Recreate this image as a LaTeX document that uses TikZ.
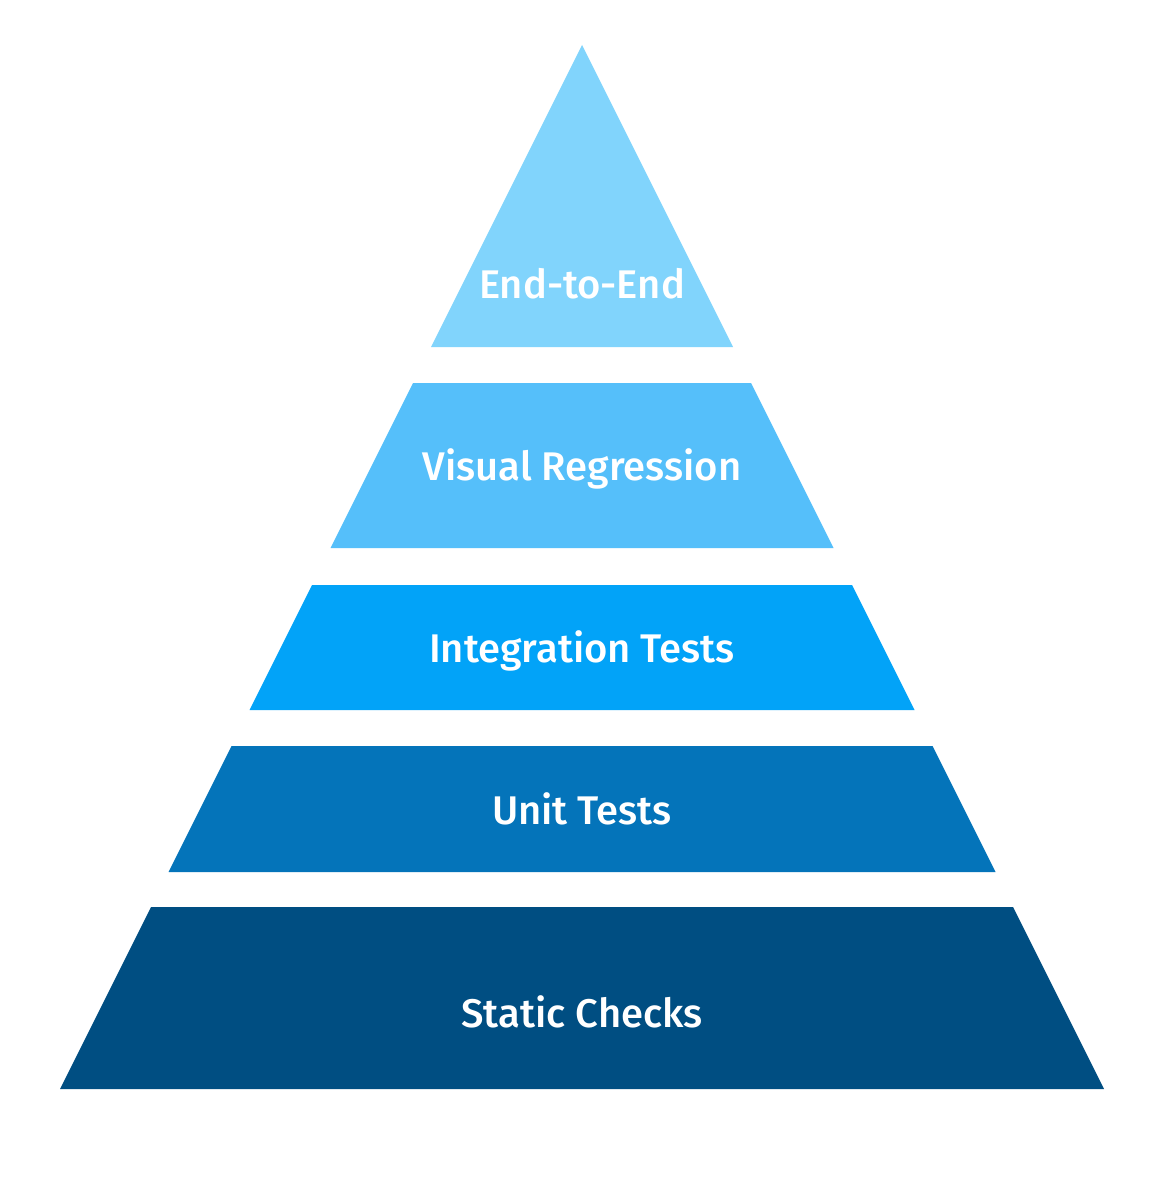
\documentclass[tikz,border=0pt]{standalone}
\usepackage{fontspec}
\setmainfont{Fira Sans Medium}
\definecolor{c1}{HTML}{81D4FC}
\definecolor{c2}{HTML}{55BFFA}
\definecolor{c3}{HTML}{02A3F8}
\definecolor{c4}{HTML}{0474BA}
\definecolor{c5}{HTML}{004E82}
\begin{document}
\begin{tikzpicture}[x=1pt,y=-1pt,
  lbl/.style={text=white,font=\fontsize{40}{42}\selectfont,inner sep=0pt,anchor=base}]
\useasboundingbox[fill=white] (0,0) rectangle (1164,1180);
% apex (582,45), half width = 0.5*(y-45)
\fill[c1] (582,45) -- (733,347) -- (431,347) -- cycle;
\fill[c2] (413,383) -- (751,383) -- (833.5,548) -- (330.5,548) -- cycle;
\fill[c3] (312,585) -- (852,585) -- (914.5,710) -- (249.5,710) -- cycle;
\fill[c4] (231.5,746) -- (932.5,746) -- (995.5,872) -- (168.5,872) -- cycle;
\fill[c5] (151,907) -- (1013,907) -- (1104,1089) -- (60,1089) -- cycle;
\node[lbl] (e2e) at (582,298) {End-to-End};
\node[lbl] (vr) at (582,480) {Visual Regression};
\node[lbl] (it) at (582,662) {Integration Tests};
\node[lbl] (ut) at (582,824) {Unit Tests};
\node[lbl] (sc) at (582,1027) {Static Checks};
\end{tikzpicture}
\end{document}
